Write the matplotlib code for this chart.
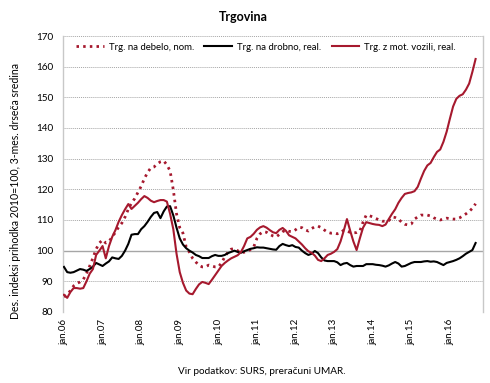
import matplotlib
matplotlib.use("Agg")
import matplotlib.pyplot as plt
import numpy as np

# Monthly data, jan.06 .. sep.16
wholesale_nom = [85, 85.5, 87, 88.5, 89.3, 89.8, 90.6, 92.5, 95, 97.6, 100.5, 102.5,
                 103.5, 102.5, 103, 104.5, 106, 107.7, 109, 111, 113.5, 115.5, 117, 119,
                 121, 123.5, 125.5, 127, 127.3, 128.3, 129, 129.3, 128, 126, 119.8, 112,
                 107.5, 105.7, 101.2, 99.5, 97.5, 96.3, 95.2, 94.7, 94.7, 95.3, 95, 94.7,
                 94.7, 96, 98, 99.5, 100.5, 100.6, 100, 99.3, 99.5, 99.6, 100.4, 101.2,
                 104, 105.5, 106.2, 106, 105.3, 104.8, 104.5, 105.3, 106.2, 106.7, 106.3, 106.2,
                 106.8, 107.6, 107.5, 106.8, 106.4, 107.2, 107.8, 108, 107.5, 106.7, 106, 105.7,
                 105.8, 105.5, 105.8, 106.7, 106.3, 106, 105.8, 105.9, 106.4, 109.3, 111.6, 111.4,
                 111, 110.5, 110, 109.6, 109.6, 109.8, 111, 110.8, 110.3, 109.3, 108.6, 108.4,
                 108.7, 110.3, 111, 111.6, 111.6, 111.6, 111.3, 110.7, 110.3, 110, 110.3, 110.6,
                 110.4, 110.3, 110.3, 110.7, 111.3, 112, 112.8, 113.8, 115.3]

retail_real = [94.7, 93, 92.8, 93, 93.5, 94, 93.8, 93.4, 94, 94.8, 96, 95.5,
               95, 95.8, 96.5, 97.8, 97.5, 97.3, 98.3, 100, 102.2, 105.2, 105.4, 105.4,
               107, 108, 109.4, 111, 112.3, 112.6, 110.6, 112.8, 114.4, 114.5, 111.5, 107.5,
               104, 102, 100.8, 100, 99.4, 98.6, 98.2, 97.6, 97.6, 97.6, 98.2, 98.6,
               98.3, 98.3, 98.6, 99.2, 99.6, 100, 99.6, 99.3, 99.8, 100.2, 100.6, 100.8,
               101.1, 101, 101, 100.8, 100.6, 100.4, 100.3, 101.5, 102.2, 101.8, 101.5, 101.8,
               101.2, 101, 100, 99.2, 98.6, 99, 99.9, 99.2, 97.8, 96.8, 96.6, 96.6,
               96.6, 96.2, 95.3, 95.8, 96, 95.3, 94.8, 95, 95, 95, 95.6, 95.6,
               95.6, 95.4, 95.3, 95.1, 94.8, 95.2, 95.8, 96.3, 95.8, 94.8, 95, 95.5,
               96, 96.3, 96.3, 96.3, 96.5, 96.6, 96.4, 96.5, 96.3, 95.8, 95.3, 96,
               96.3, 96.6, 97, 97.5, 98.2, 99, 99.6, 100.2, 102.5]

motor_real = [85.6, 84.6, 86.5, 87.8, 87.8, 87.6, 87.8, 90, 92.5, 94, 98.6, 100,
              101.5, 97.5, 101.5, 104.5, 106.7, 109.4, 111.6, 113.5, 115.2, 113.6, 114.6, 115.6,
              116.8, 117.8, 117.2, 116.3, 115.8, 116.2, 116.5, 116.5, 116, 112, 107, 99,
              93, 89.5, 87, 86, 85.8, 87.5, 89, 89.8, 89.5, 89.1, 90.5, 92,
              93.5, 95, 96, 96.8, 97.5, 98, 98.5, 99.5, 101.5, 104, 104.5, 105.5,
              106.8, 107.6, 108, 107.5, 106.7, 106, 105.7, 106.8, 107.4, 106.5, 105, 104.5,
              104, 103, 102, 100.8, 99.8, 99.3, 98.4, 97, 96.6, 97.5, 98.6, 99,
              99.6, 100.5, 103, 106.5, 110.3, 106.5, 103, 100.2, 104, 107.5, 109.3, 109,
              108.7, 108.5, 108.4, 108, 108.5, 110.3, 112, 113.5, 115.6, 117.2, 118.5, 118.8,
              119, 119.4, 120.8, 123.5, 126, 127.8, 128.6, 130.5, 132.2, 133, 135.5, 138.8,
              143, 147, 149.5, 150.5, 151, 152.5, 154.5, 158.3, 162.5]

series_names = ["Trg. na debelo, nom.", "Trg. na drobno, real.", "Trg. z mot. vozili, real."]
tick_labels = ["jan.06", "jan.07", "jan.08", "jan.09", "jan.10", "jan.11",
               "jan.12", "jan.13", "jan.14", "jan.15", "jan.16"]

plt.rcParams['font.family'] = ['Lato', 'DejaVu Sans']

fig = plt.figure(figsize=(4.9, 3.83), dpi=100)
ax = fig.add_axes([0.1286, 0.1854, 0.9857 - 0.1286, 0.906 - 0.1854])

x = np.arange(len(motor_real))
red = '#A6192E'

ax.plot(x, wholesale_nom, color=red, lw=2.0, linestyle=(0, (0.9, 1.5)),
        label=series_names[0], zorder=3)
ax.plot(x, retail_real, color='black', lw=1.5, label=series_names[1], zorder=4)
ax.plot(x, motor_real, color=red, lw=1.5, label=series_names[2], zorder=5)

ax.set_ylim(80, 170)
ax.set_xlim(-0.3, 130.3)
ax.set_yticks(np.arange(80, 171, 10))
for v in range(80, 171, 10):
    if v == 100:
        ax.axhline(v, color='#a6a6a6', lw=1.0, zorder=1)
    else:
        ax.axhline(v, color='#a6a6a6', lw=0.7, linestyle=(0, (1, 1)), zorder=1)

ax.set_xticks(np.arange(0, 121, 12))
ax.set_xticklabels(tick_labels, rotation=90, fontsize=7)
ax.tick_params(axis='y', length=0, labelsize=7.2, pad=7)
ax.tick_params(axis='x', length=0, pad=5)

for s in ['top', 'bottom']:
    ax.spines[s].set_visible(False)
for s in ['left', 'right']:
    ax.spines[s].set_color('#c8c8c8')
    ax.spines[s].set_linewidth(1.0)

ax.set_ylabel("Des. indeksi prihodka 2010=100, 3-mes. drseča sredina", fontsize=7.6, labelpad=10)
ax.yaxis.set_label_coords(-0.1, 0.44)

leg = ax.legend(loc='upper left', ncol=3, frameon=False, fontsize=6.9,
                bbox_to_anchor=(0.015, 1.0), handlelength=2.9, columnspacing=1.1,
                handletextpad=0.5, borderaxespad=0.3)

fig.text(0.496, 0.955, "Trgovina", ha='center', va='center', fontsize=9, fontweight='bold')
fig.text(0.535, 0.03, "Vir podatkov: SURS, preračuni UMAR.", ha='center', va='center', fontsize=7.2)

fig.savefig("out.png", dpi=100)
